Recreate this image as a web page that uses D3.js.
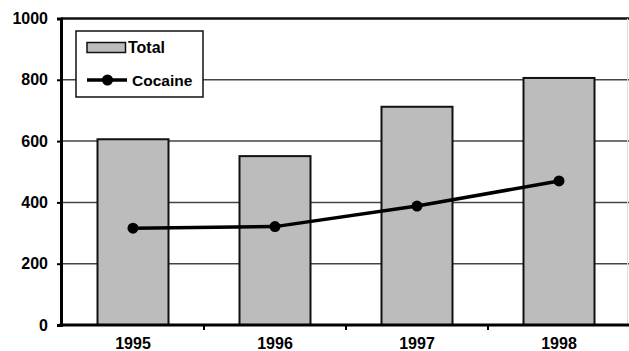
<!DOCTYPE html>
<html>
<head>
<meta charset="utf-8">
<script src="https://cdn.jsdelivr.net/npm/d3@7"></script>
<style>
  html, body { margin: 0; padding: 0; background: #fff; }
  svg text { font-family: "Liberation Sans", Arial, sans-serif; font-weight: bold; fill: #000; }
</style>
</head>
<body>
<svg id="chart" width="629" height="351"></svg>
<script>
// Admissions by year: all admissions vs. cocaine-related
const years = ["1995", "1996", "1997", "1998"];
const totalValues = [606, 551, 712, 806];
const cocaineValues = [316, 321, 388, 470];
const yTicks = [0, 200, 400, 600, 800, 1000];

const svg = d3.select("#chart");
const width = 629, height = 351;
const margin = { left: 61, top: 18.5, bottom: 26 };
const plotLeft = 62, plotRight = 630;

const xBounds = d3.scaleBand()
  .domain(years)
  .range([plotLeft, plotRight]);

const x = d3.scaleBand()
  .domain(years)
  .range([plotLeft, plotRight])
  .paddingInner(0.5)
  .paddingOuter(0.25);

const y = d3.scaleLinear()
  .domain([0, 1000])
  .range([height - margin.bottom, margin.top]);

// horizontal gridlines
svg.append("g")
  .selectAll("line")
  .data(yTicks.filter(d => d > 0 && d < 1000))
  .join("line")
  .attr("x1", margin.left)
  .attr("x2", width)
  .attr("y1", d => y(d))
  .attr("y2", d => y(d))
  .attr("stroke", "#444")
  .attr("stroke-width", 1.5);

// top frame line at 1000
svg.append("line")
  .attr("x1", margin.left).attr("x2", width)
  .attr("y1", y(1000)).attr("y2", y(1000))
  .attr("stroke", "#111").attr("stroke-width", 2.5);

// faint right edge
svg.append("line")
  .attr("x1", width - 1.5).attr("x2", width - 1.5)
  .attr("y1", y(1000)).attr("y2", y(0))
  .attr("stroke", "#ddd").attr("stroke-width", 1);

// bars
svg.append("g")
  .selectAll("rect")
  .data(years)
  .join("rect")
  .attr("x", d => x(d))
  .attr("width", x.bandwidth())
  .attr("y", (d, i) => y(totalValues[i]))
  .attr("height", (d, i) => y(0) - y(totalValues[i]))
  .attr("fill", "#bcbcbc")
  .attr("stroke", "#111")
  .attr("stroke-width", 2);

// cocaine line
const cx = (d, i) => x(years[i]) + x.bandwidth() / 2;
const line = d3.line().x(cx).y(d => y(d));

svg.append("path")
  .datum(cocaineValues)
  .attr("d", line)
  .attr("fill", "none")
  .attr("stroke", "#000")
  .attr("stroke-width", 3.5);

svg.append("g")
  .selectAll("circle")
  .data(cocaineValues)
  .join("circle")
  .attr("cx", cx)
  .attr("cy", d => y(d))
  .attr("r", 5.5)
  .attr("fill", "#000");

// y axis
const yAxis = svg.append("g")
  .attr("transform", `translate(${margin.left},0)`)
  .call(d3.axisLeft(y).tickValues(yTicks).tickSize(4).tickPadding(9).tickFormat(d3.format("d")));
yAxis.attr("font-size", null).attr("font-family", null);
yAxis.select(".domain").attr("stroke", "#000").attr("stroke-width", 3);
yAxis.selectAll(".tick line").attr("stroke", "#000").attr("stroke-width", 2);
yAxis.selectAll("text").style("font-size", "16px");

// x axis with ticks on category boundaries
const xAxisG = svg.append("g")
  .attr("transform", `translate(0,${y(0)})`);
xAxisG.append("line")
  .attr("x1", margin.left - 1.5).attr("x2", width)
  .attr("stroke", "#000").attr("stroke-width", 3);
xAxisG.selectAll("line.tick")
  .data(years.slice(1))
  .join("line")
  .attr("class", "tick")
  .attr("x1", d => xBounds(d)).attr("x2", d => xBounds(d))
  .attr("y1", 0).attr("y2", 5)
  .attr("stroke", "#000").attr("stroke-width", 2);
xAxisG.selectAll("text")
  .data(years)
  .join("text")
  .attr("x", d => x(d) + x.bandwidth() / 2)
  .attr("y", 24)
  .attr("text-anchor", "middle")
  .style("font-size", "16px")
  .text(d => d);

// legend
const legend = svg.append("g");
legend.append("rect")
  .attr("x", 76).attr("y", 31)
  .attr("width", 127).attr("height", 66)
  .attr("fill", "#fff")
  .attr("stroke", "#111")
  .attr("stroke-width", 1.5);
legend.append("rect")
  .attr("x", 87).attr("y", 42.5)
  .attr("width", 38.5).attr("height", 10)
  .attr("fill", "#bcbcbc")
  .attr("stroke", "#111")
  .attr("stroke-width", 1.5);
legend.append("text")
  .attr("x", 128).attr("y", 53)
  .style("font-size", "16px")
  .text("Total");
legend.append("line")
  .attr("x1", 87).attr("x2", 127)
  .attr("y1", 80).attr("y2", 80)
  .attr("stroke", "#000").attr("stroke-width", 3.5);
legend.append("circle")
  .attr("cx", 107.5).attr("cy", 80).attr("r", 5.5)
  .attr("fill", "#000");
legend.append("text")
  .attr("x", 132).attr("y", 85.5)
  .style("font-size", "15.5px")
  .text("Cocaine");
</script>
</body>
</html>
